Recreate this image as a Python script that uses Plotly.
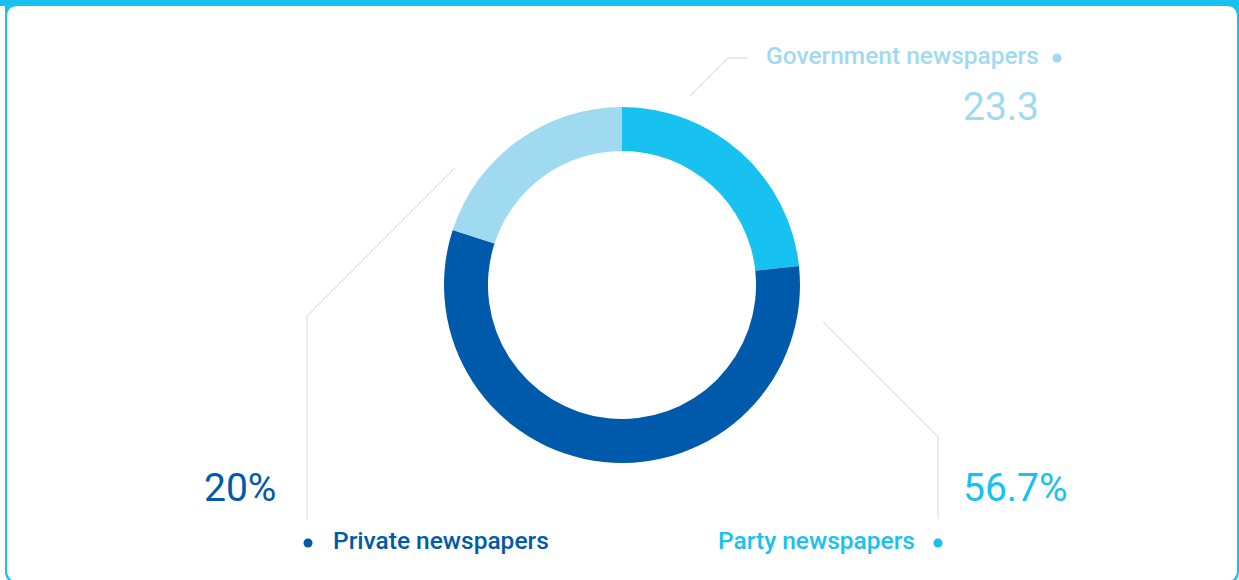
import plotly.graph_objects as go

# Share of newspapers by ownership type
categories = ["Government newspapers", "Party newspapers", "Private newspapers"]
shares = [23.3, 56.7, 20]
value_suffix = ["", "%", "%"]
slice_colors = ["#17c1f0", "#005aab", "#a0daf0"]
label_colors = ["#a0daf0", "#17c1f0", "#005aab"]

W, H = 1239, 580
BLUE = "#17c1f0"
GREY = "#d6d6d6"
FONT = "Roboto"


def fx(x):
    return x / W


def fy(y):
    return 1 - y / H


def rounded_rect(x0, y0, x1, y1, r):
    pts = [
        ("M", [(x0 + r, y0)]),
        ("L", [(x1 - r, y0)]),
        ("Q", [(x1, y0), (x1, y0 + r)]),
        ("L", [(x1, y1 - r)]),
        ("Q", [(x1, y1), (x1 - r, y1)]),
        ("L", [(x0 + r, y1)]),
        ("Q", [(x0, y1), (x0, y1 - r)]),
        ("L", [(x0, y0 + r)]),
        ("Q", [(x0, y0), (x0 + r, y0)]),
    ]
    out = []
    for cmd, coords in pts:
        out.append(cmd + " ".join(f"{fx(a):.6f},{fy(b):.6f}" for a, b in coords))
    return " ".join(out) + " Z"


def polyline(points):
    return "M" + " L".join(f"{fx(a):.6f},{fy(b):.6f}" for a, b in points)


fig = go.Figure(
    go.Pie(
        labels=categories,
        values=shares,
        hole=0.753,
        sort=False,
        direction="clockwise",
        rotation=0,
        marker=dict(colors=slice_colors, line=dict(width=0)),
        textinfo="none",
        hoverinfo="label+value",
        showlegend=False,
        domain=dict(x=[fx(444), fx(800)], y=[fy(463), fy(107)]),
    )
)

shapes = [
    # card frame (bottom edge runs just past the page)
    dict(type="path", path=rounded_rect(5, -20, 1239, 583, 12), xref="paper", yref="paper",
         fillcolor=BLUE, line=dict(width=0), layer="below"),
    dict(type="path", path=rounded_rect(7, 6, 1237, 581, 11), xref="paper", yref="paper",
         fillcolor="white", line=dict(width=0), layer="below"),
    dict(type="rect", x0=0, x1=1, y0=fy(6), y1=1, xref="paper", yref="paper",
         fillcolor=BLUE, line=dict(width=0), layer="below"),
]

# leader lines
leaders = [
    [(690, 96), (728, 58), (748, 58)],
    [(823, 322), (938, 437), (938, 519)],
    [(455, 168), (307, 316), (307, 519)],
]
for pts in leaders:
    shapes.append(dict(type="path", path=polyline(pts), xref="paper", yref="paper",
                       line=dict(color=GREY, width=1), layer="below"))

# bullet dots
dots = [(1057, 58), (938, 543), (308, 543)]
for (cx, cy), col in zip(dots, label_colors):
    r = 4.5
    shapes.append(dict(type="circle", xref="paper", yref="paper",
                       x0=fx(cx - r), x1=fx(cx + r), y0=fy(cy + r), y1=fy(cy - r),
                       fillcolor=col, line=dict(width=0)))

# label and value placement: (name x, name y, name anchor, value x, value y, value anchor)
placement = [
    (1041, 55, "right", 1041, 107, "right"),
    (917, 540, "right", 961, 488, "left"),
    (331, 540, "left", 202, 488, "left"),
]

annotations = []
for name, val, suf, col, (nx, ny, na, vx, vy, va) in zip(
        categories, shares, value_suffix, label_colors, placement):
    annotations.append(dict(
        x=fx(nx), y=fy(ny), xref="paper", yref="paper", text=name, showarrow=False,
        xanchor=na, yanchor="middle",
        font=dict(family=FONT, size=24.5, color=col, weight=500)))
    annotations.append(dict(
        x=fx(vx), y=fy(vy), xref="paper", yref="paper", text=f"{val:g}{suf}", showarrow=False,
        xanchor=va, yanchor="middle",
        font=dict(family=FONT, size=39, color=col)))

fig.update_layout(
    width=W, height=H,
    margin=dict(l=0, r=0, t=0, b=0),
    paper_bgcolor="white",
    plot_bgcolor="white",
    shapes=shapes,
    annotations=annotations,
)

fig.write_html("out.html")
